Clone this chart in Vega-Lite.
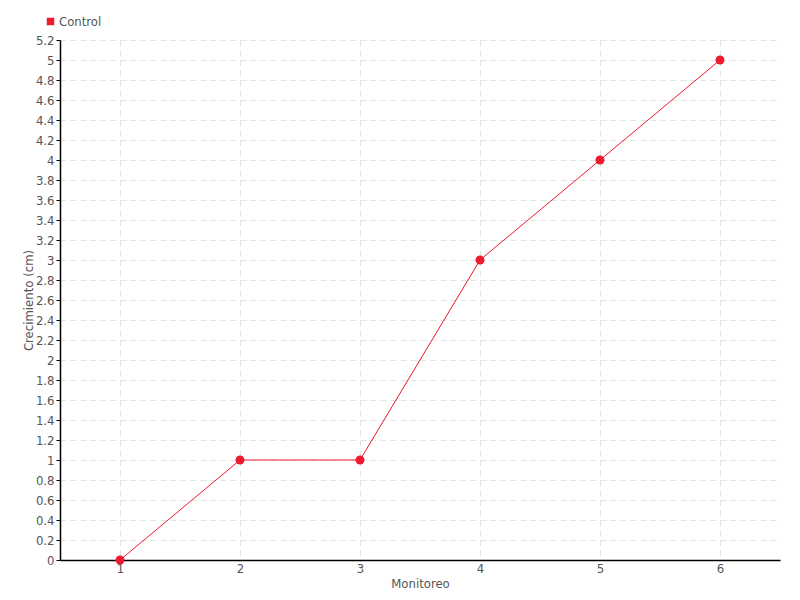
{
  "$schema": "https://vega.github.io/schema/vega-lite/v6.json",
  "width": 720,
  "height": 520,
  "autosize": {"type": "none"},
  "padding": {"left": 60, "top": 40, "right": 20, "bottom": 40},
  "background": "white",
  "config": {
    "view": {"stroke": null},
    "font": "DejaVu Sans Condensed, DejaVu Sans, sans-serif",
    "axis": {
      "labelFont": "DejaVu Sans Condensed, DejaVu Sans, sans-serif",
      "titleFont": "DejaVu Sans Condensed, DejaVu Sans, sans-serif",
      "labelColor": "#555555",
      "titleColor": "#555555",
      "labelFontSize": 13,
      "titleFontSize": 13,
      "titleFontWeight": "normal",
      "domainColor": "#000000",
      "domainWidth": 1.5,
      "tickColor": "#000000",
      "gridColor": "#e3e3e3",
      "gridDash": [6, 4],
      "gridWidth": 1
    }
  },
  "data": {
    "values": [
      {"monitoreo": 1, "crecimiento": 0, "serie": "Control"},
      {"monitoreo": 2, "crecimiento": 1, "serie": "Control"},
      {"monitoreo": 3, "crecimiento": 1, "serie": "Control"},
      {"monitoreo": 4, "crecimiento": 3, "serie": "Control"},
      {"monitoreo": 5, "crecimiento": 4, "serie": "Control"},
      {"monitoreo": 6, "crecimiento": 5, "serie": "Control"}
    ]
  },
  "encoding": {
    "x": {
      "field": "monitoreo",
      "type": "quantitative",
      "scale": {"domain": [0.5, 6.5], "nice": false, "zero": false},
      "axis": {
        "title": "Monitoreo",
        "values": [1, 2, 3, 4, 5, 6],
        "ticks": false,
        "labelPadding": 2,
        "titlePadding": 2,
        "grid": true
      }
    },
    "y": {
      "field": "crecimiento",
      "type": "quantitative",
      "scale": {"domain": [0, 5.2], "nice": false},
      "axis": {
        "title": "Crecimiento (cm)",
        "values": [0, 0.2, 0.4, 0.6, 0.8, 1, 1.2, 1.4, 1.6, 1.8, 2, 2.2, 2.4, 2.6, 2.8, 3, 3.2, 3.4, 3.6, 3.8, 4, 4.2, 4.4, 4.6, 4.8, 5, 5.2],
        "format": ".1~f",
        "tickSize": 4,
        "labelPadding": 2,
        "titlePadding": 0,
        "grid": true
      }
    },
    "color": {
      "field": "serie",
      "type": "nominal",
      "scale": {"range": ["#ee1a2e"]},
      "legend": {
        "title": null,
        "orient": "none",
        "legendX": -16,
        "legendY": -25,
        "symbolType": "square",
        "symbolSize": 36,
        "symbolOpacity": 1,
        "labelFont": "DejaVu Sans Condensed, DejaVu Sans, sans-serif",
        "labelFontSize": 13,
        "labelColor": "#555555",
        "labelOffset": 2
      }
    }
  },
  "layer": [
    {"mark": {"type": "line", "strokeWidth": 1, "color": "#ff3048"}},
    {"mark": {"type": "point", "filled": true, "size": 80, "opacity": 1}}
  ]
}
